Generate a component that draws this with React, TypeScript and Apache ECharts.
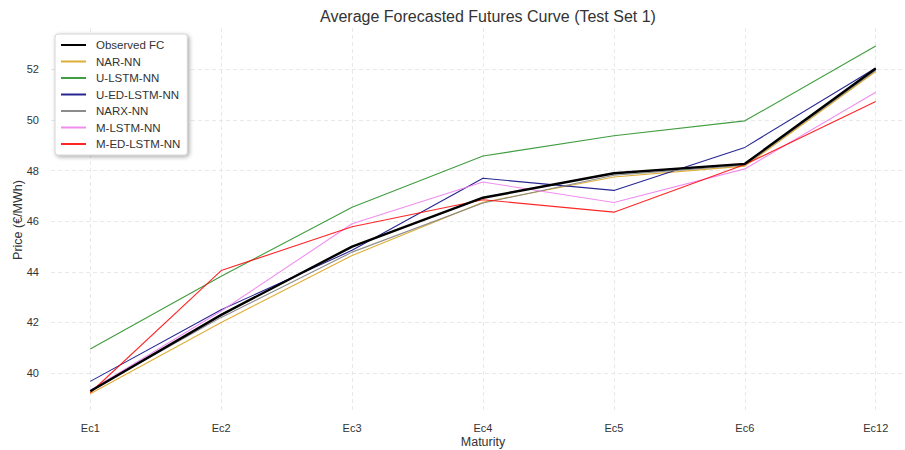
import React, { useEffect, useRef } from "react";
import * as echarts from "echarts";

const categories = ["Ec1", "Ec2", "Ec3", "Ec4", "Ec5", "Ec6", "Ec12"];
const yTicks = [40, 42, 44, 46, 48, 50, 52];

const observedFC = [39.28, 42.3, 45.0, 46.93, 47.9, 48.27, 52.04];
const narNN = [39.18, 42.0, 44.65, 46.75, 47.75, 48.18, 51.92];
const uLstmNN = [40.95, 43.83, 46.55, 48.58, 49.38, 49.97, 52.93];
const uEdLstmNN = [39.67, 42.5, 44.85, 47.7, 47.22, 48.92, 52.06];
const narxNN = [39.3, 42.2, 44.78, 46.72, 47.82, 48.22, 51.97];
const mLstmNN = [39.32, 42.45, 45.9, 47.55, 46.74, 48.07, 51.1];
const mEdLstmNN = [39.22, 44.05, 45.78, 46.85, 46.36, 48.24, 50.73];

const seriesDefs = [
  { name: "Observed FC", values: observedFC, color: "#000000", width: 2.4, z: 5, opacity: 1 },
  { name: "NAR-NN", values: narNN, color: "#DAA520", width: 1.1, z: 2, opacity: 0.9 },
  { name: "U-LSTM-NN", values: uLstmNN, color: "#1e8c1e", width: 1.1, z: 2, opacity: 0.85 },
  { name: "U-ED-LSTM-NN", values: uEdLstmNN, color: "#000080", width: 1.1, z: 2, opacity: 0.85 },
  { name: "NARX-NN", values: narxNN, color: "#808080", width: 1.1, z: 2, opacity: 0.9 },
  { name: "M-LSTM-NN", values: mLstmNN, color: "#EE82EE", width: 1.1, z: 2, opacity: 0.9 },
  { name: "M-ED-LSTM-NN", values: mEdLstmNN, color: "#FF0000", width: 1.1, z: 2, opacity: 0.85 },
];

const FONT = "'Liberation Sans', Arial, sans-serif";

export default function App() {
  const ref = useRef<HTMLDivElement>(null);
  useEffect(() => {
    document.body.style.margin = "0";
    if (!ref.current) return;
    const chart = echarts.init(ref.current, undefined, { renderer: "svg" });
    const xIdx = categories.map((_, i) => i);
    chart.setOption({
      animation: false,
      backgroundColor: "#ffffff",
      textStyle: { fontFamily: FONT },
      title: {
        text: "Average Forecasted Futures Curve (Test Set 1)",
        left: 483,
        textAlign: "center",
        top: 3,
        textStyle: { fontFamily: FONT, fontSize: 16, fontWeight: "normal", color: "#333333" },
      },
      legend: {
        orient: "vertical",
        left: 55,
        top: 34,
        data: seriesDefs.map((s) => s.name),
        itemWidth: 25,
        itemHeight: 10,
        itemGap: 4.5,
        padding: [5, 7, 5, 5],
        backgroundColor: "#ffffff",
        borderColor: "#cccccc",
        borderWidth: 0.8,
        borderRadius: 3,
        shadowBlur: 4,
        shadowColor: "rgba(0,0,0,0.35)",
        shadowOffsetX: 1.5,
        shadowOffsetY: 1.5,
        itemStyle: { opacity: 0 },
        textStyle: { fontFamily: FONT, fontSize: 11.5, color: "#333333", lineHeight: 12, padding: [0, 0, 0, 5] },
      },
      grid: { left: 51, right: -10, top: 28, bottom: 38, containLabel: false, outerBoundsMode: "none" },
      xAxis: {
        type: "value",
        min: -0.3,
        max: 6.3,
        name: "Maturity",
        nameLocation: "middle",
        nameGap: 23,
        nameMoveOverlap: false,
        nameTextStyle: { fontFamily: FONT, fontSize: 12.5, color: "#333333" },
        axisLine: { show: false },
        axisTick: { show: false, customValues: xIdx },
        axisLabel: {
          customValues: xIdx,
          formatter: (v: number) => categories[Math.round(v)] ?? "",
          fontFamily: FONT,
          fontSize: 11,
          color: "#333333",
          margin: 10,
        },
        splitLine: { show: true, lineStyle: { color: "#e3e3e3", type: [4, 3], width: 0.8 } },
      },
      yAxis: {
        type: "value",
        min: 38.46,
        max: 53.64,
        name: "Price (€/MWh)",
        nameLocation: "middle",
        nameGap: 27,
        nameMoveOverlap: false,
        nameTextStyle: { fontFamily: FONT, fontSize: 12.5, color: "#333333" },
        axisLine: { show: false },
        axisTick: { show: false, customValues: yTicks },
        axisLabel: {
          customValues: yTicks,
          fontFamily: FONT,
          fontSize: 11,
          color: "#333333",
          margin: 12,
        },
        splitLine: { show: true, lineStyle: { color: "#e3e3e3", type: [4, 3], width: 0.8 } },
      },
      series: seriesDefs.map((s) => ({
        name: s.name,
        type: "line",
        data: s.values.map((v, i) => [i, v]),
        symbol: "none",
        z: s.z,
        color: s.color,
        lineStyle: { color: s.color, width: s.width, opacity: s.opacity },
        emphasis: { disabled: true },
      })),
    });
    return () => chart.dispose();
  }, []);
  return <div ref={ref} style={{ width: 905, height: 450 }} />;
}
